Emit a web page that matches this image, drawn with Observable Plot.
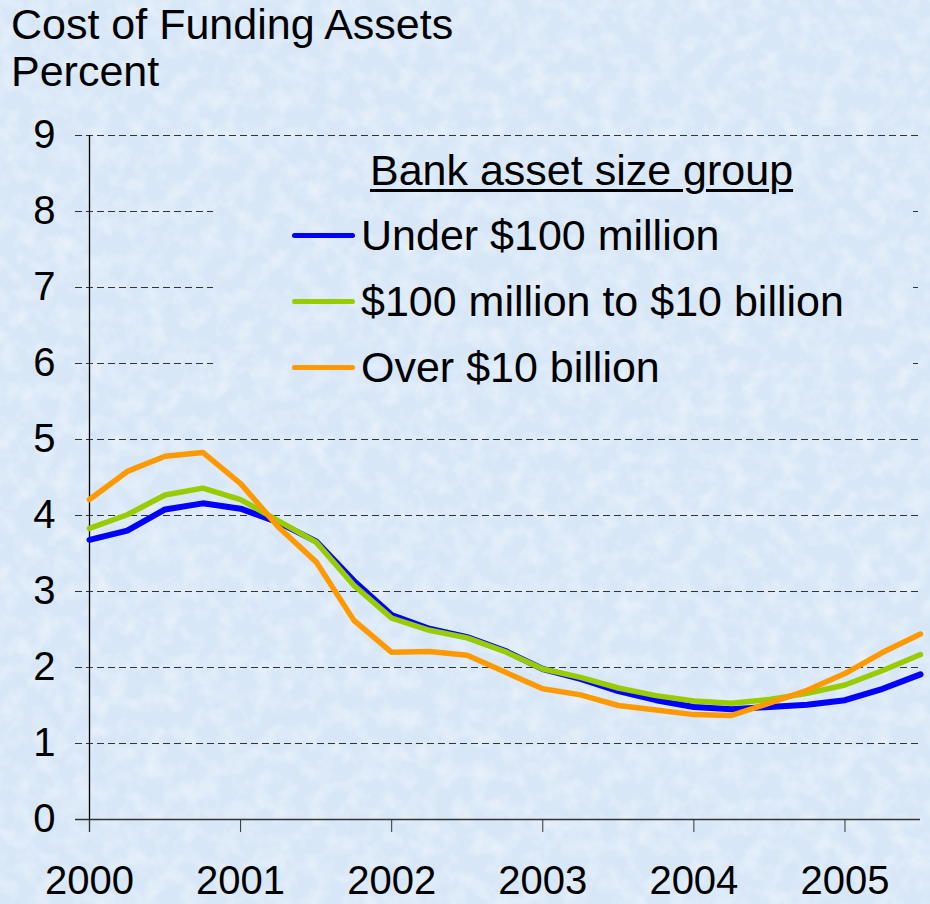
<!DOCTYPE html>
<html>
<head>
<meta charset="utf-8">
<script src="https://cdn.jsdelivr.net/npm/d3@7"></script>
<script src="https://cdn.jsdelivr.net/npm/@observablehq/plot@0.6"></script>
<style>
  html, body { margin: 0; padding: 0; }
  body { width: 930px; height: 904px; overflow: hidden; }
  #wrap {
    position: relative; width: 930px; height: 904px;
    background-color: #d8e7f7;
    font-family: "Liberation Sans", Arial, sans-serif; color: #000;
  }
  .t { position: absolute; white-space: nowrap; font-size: 43px; line-height: 43px; }
  .h { position: absolute; white-space: nowrap; font-size: 43px; line-height: normal; }
  #chart { position: absolute; left: 0; top: 100px; }
  #legend { position: absolute; left: 213px; top: 145px; width: 700px; height: 255px; background-color: #d8e7f7; }
  .sw { position: absolute; width: 63px; height: 5px; border-radius: 3px; }
</style>
</head>
<body>
<div id="wrap">
  <div class="h" style="left:11px; top:0px;">Cost of Funding Assets</div>
  <div class="h" style="left:11px; top:47px;">Percent</div>
  <div id="chart"></div>
  <div id="legend"></div>
</div>
<script>
const quarters = [2000, 2000.25, 2000.5, 2000.75, 2001, 2001.25, 2001.5, 2001.75,
  2002, 2002.25, 2002.5, 2002.75, 2003, 2003.25, 2003.5, 2003.75,
  2004, 2004.25, 2004.5, 2004.75, 2005, 2005.25, 2005.5];
const under100m = [3.68, 3.80, 4.08, 4.16, 4.09, 3.91, 3.66, 3.14, 2.69, 2.51, 2.40, 2.22,
  1.98, 1.85, 1.69, 1.57, 1.48, 1.45, 1.48, 1.51, 1.57, 1.72, 1.91];
const mid100mTo10b = [3.83, 4.01, 4.27, 4.36, 4.21, 3.93, 3.65, 3.08, 2.65, 2.49, 2.39, 2.21,
  1.98, 1.87, 1.73, 1.63, 1.56, 1.53, 1.58, 1.66, 1.77, 1.96, 2.17];
const over10b = [4.21, 4.58, 4.78, 4.83, 4.42, 3.85, 3.39, 2.62, 2.20, 2.21, 2.16, 1.94,
  1.72, 1.64, 1.50, 1.44, 1.38, 1.37, 1.53, 1.70, 1.92, 2.20, 2.44];
const seriesNames = ["Under $100 million", "$100 million to $10 billion", "Over $10 billion"];
const seriesColors = ["#0000ff", "#99cc00", "#ff9900"];
const yearTicks = [2000, 2001, 2002, 2003, 2004, 2005];
const yTicks = [0, 1, 2, 3, 4, 5, 6, 7, 8, 9];
const legendTitle = "Bank asset size group";

// subtle mottled background texture (shared by page and legend box so they line up)
const tex = `<svg xmlns="http://www.w3.org/2000/svg" width="930" height="904">
<filter id="n" x="0" y="0" width="100%" height="100%">
<feTurbulence type="fractalNoise" baseFrequency="0.055" numOctaves="3" seed="7"/>
<feColorMatrix values="0 0 0 0 1  0 0 0 0 1  0 0 0 0 1  0.9 0 0 0 -0.38"/>
</filter>
<rect width="930" height="904" filter="url(#n)"/></svg>`;
const texUrl = `url("data:image/svg+xml,${encodeURIComponent(tex)}")`;
document.getElementById("wrap").style.backgroundImage = texUrl;
const legendEl = document.getElementById("legend");
legendEl.style.backgroundImage = texUrl;
legendEl.style.backgroundPosition = "-213px -145px";

const seriesValues = [under100m, mid100mTo10b, over10b];
const rows = [];
seriesValues.forEach((vals, s) => vals.forEach((v, i) => rows.push({series: seriesNames[s], x: quarters[i], y: v})));

const plot = Plot.plot({
  width: 930,
  height: 804,
  marginTop: 35,
  marginBottom: 85,
  marginLeft: 89,
  marginRight: 10,
  style: {background: "none", fontFamily: "'Liberation Sans', Arial, sans-serif", color: "#000"},
  x: {type: "linear", domain: [2000, 2005.5]},
  y: {domain: [0, 9]},
  color: {domain: seriesNames, range: seriesColors},
  marks: [
    Plot.ruleY(yTicks.filter(d => d > 0), {stroke: "#333", strokeWidth: 1, strokeDasharray: "7,4", insetLeft: -14}),
    Plot.ruleY([0], {stroke: "#333", strokeWidth: 1.3, insetLeft: -14}),
    Plot.ruleX([2000], {stroke: "#000", strokeWidth: 1.3, insetBottom: -13}),
    Plot.axisY({ticks: yTicks, tickSize: 0, tickPadding: 34, fontSize: 40, label: null, tickFormat: d => String(d)}),
    Plot.axisX({ticks: yearTicks, tickSize: 13, tickPadding: 33, fontSize: 40, label: null, tickFormat: d => String(d), stroke: "#333"}),
    ...seriesNames.map((name, s) =>
      Plot.line(rows.filter(r => r.series === name), {x: "x", y: "y", stroke: seriesColors[s], strokeWidth: s === 0 ? 6 : 5.5, strokeLinejoin: "round"})
    )
  ]
});
document.getElementById("chart").appendChild(plot);

// Legend (HTML overlay, masks gridlines like the original)
const legend = d3.select("#legend");
const L = 213, T = 145;
const asc = 36.4; // baseline offset from box top for 43px Liberation Sans, line-height 43px
legend.append("div").attr("class", "t")
  .style("left", (372 - L - 2) + "px").style("top", (185 - asc - T) + "px")
  .style("text-decoration", "underline").style("text-decoration-thickness", "3px").style("text-underline-offset", "4px")
  .text(legendTitle);
const baselines = [250, 316, 382];
seriesNames.forEach((name, i) => {
  legend.append("div").attr("class", "sw")
    .style("left", (292 - L) + "px").style("top", (baselines[i] - 15 - 2.5 - T) + "px")
    .style("background", seriesColors[i]);
  legend.append("div").attr("class", "t")
    .style("left", (361 - L) + "px").style("top", (baselines[i] - asc - T) + "px")
    .text(name);
});
</script>
</body>
</html>
